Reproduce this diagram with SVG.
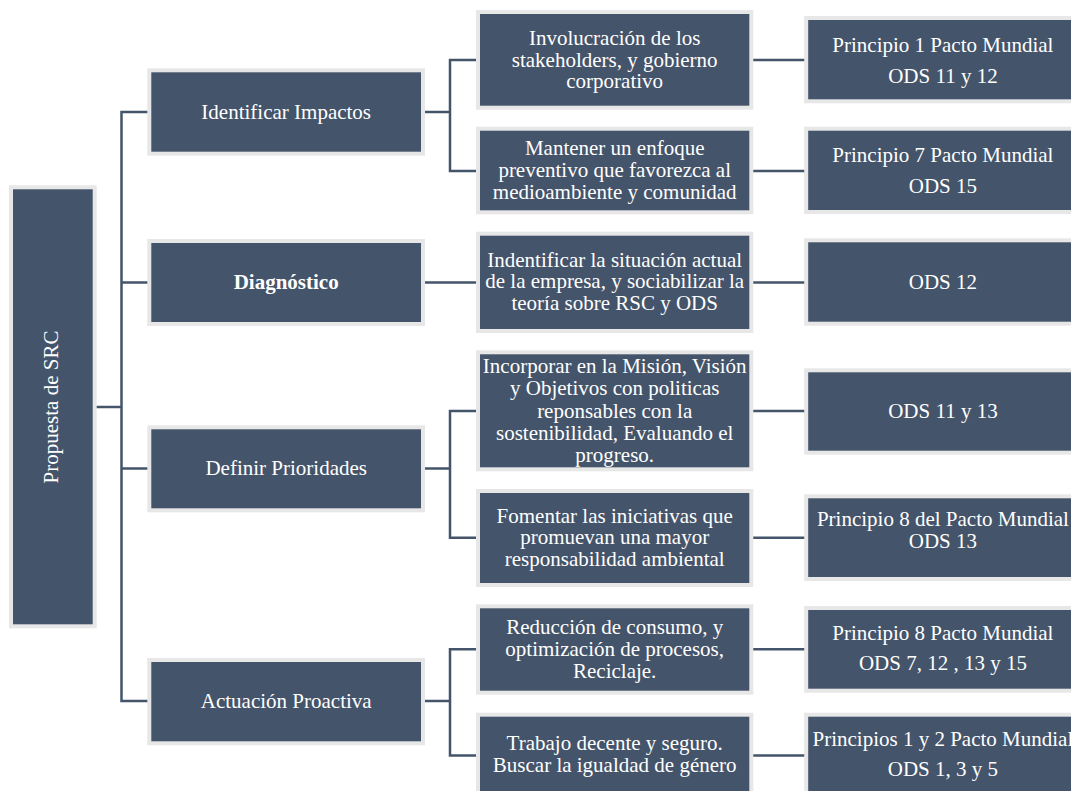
<svg xmlns="http://www.w3.org/2000/svg" width="1071" height="791" viewBox="0 0 1071 791">
<style>
.box{fill:#44546a;stroke:#e7e7e7;stroke-width:4}
.t{fill:#ffffff;font-family:"Liberation Serif","Times New Roman",serif;font-size:21px;text-anchor:middle}
.b{font-weight:bold}
.c{fill:none;stroke:#44546a;stroke-width:2.5}
</style>
<rect width="1071" height="791" fill="#ffffff"/>
<g id="connectors">
<path class="c" d="M96,407 H121.5"/>
<path class="c" d="M148,112 H121.5 V701 H148"/>
<path class="c" d="M121.5,282.5 H148"/>
<path class="c" d="M121.5,468.5 H148"/>
<path class="c" d="M424,112 H450"/>
<path class="c" d="M477,60 H450 V171 H477"/>
<path class="c" d="M424,282.5 H477"/>
<path class="c" d="M424,468.5 H450"/>
<path class="c" d="M477,411 H450 V537.7 H477"/>
<path class="c" d="M424,701 H450"/>
<path class="c" d="M477,649.3 H450 V755.5 H477"/>
<path class="c" d="M752,60 H805"/>
<path class="c" d="M752,171 H805"/>
<path class="c" d="M752,282.5 H805"/>
<path class="c" d="M752,411 H805"/>
<path class="c" d="M752,537.7 H805"/>
<path class="c" d="M752,649.3 H805"/>
<path class="c" d="M752,755.5 H805"/>
</g>
<g id="root">
<rect class="box" x="11" y="187.3" width="83.7" height="439"/>
<text class="t" transform="translate(58.2,407) rotate(-90)">Propuesta de SRC</text>
</g>
<g id="identificar">
<rect class="box" x="149.3" y="70.3" width="273.7" height="83.4"/>
<text class="t" x="286.2" y="119">Identificar Impactos</text>
</g>
<g id="diagnostico">
<rect class="box" x="149.3" y="241" width="273.7" height="83"/>
<text class="t b" x="286.2" y="289">Diagnóstico</text>
</g>
<g id="definir">
<rect class="box" x="149.3" y="427.3" width="273.7" height="83"/>
<text class="t" x="286.2" y="475">Definir Prioridades</text>
</g>
<g id="actuacion">
<rect class="box" x="149.3" y="660" width="273.7" height="83.3"/>
<text class="t" x="286.2" y="708.3">Actuación Proactiva</text>
</g>
<g id="involucracion">
<rect class="box" x="478" y="12" width="273.3" height="95.7"/>
<text class="t" x="614.7" y="45">Involucración de los</text>
<text class="t" x="614.7" y="66.6">stakeholders, y gobierno</text>
<text class="t" x="614.7" y="88.2">corporativo</text>
</g>
<g id="mantener">
<rect class="box" x="478" y="128.7" width="273.3" height="83.6"/>
<text class="t" x="614.7" y="155">Mantener un enfoque</text>
<text class="t" x="614.7" y="176.7">preventivo que favorezca al</text>
<text class="t" x="614.7" y="198.5">medioambiente y comunidad</text>
</g>
<g id="indentificar">
<rect class="box" x="478" y="233.7" width="273.3" height="97.3"/>
<text class="t" x="614.7" y="266.7">Indentificar la situación actual</text>
<text class="t" x="614.7" y="288.3">de la empresa, y sociabilizar la</text>
<text class="t" x="614.7" y="310">teoría sobre RSC y ODS</text>
</g>
<g id="incorporar">
<rect class="box" x="478" y="352.3" width="273.3" height="117"/>
<text class="t" x="614.7" y="373.3">Incorporar en la Misión, Visión</text>
<text class="t" x="614.7" y="395.3">y Objetivos con politicas</text>
<text class="t" x="614.7" y="417.5">reponsables con la</text>
<text class="t" x="614.7" y="439.5">sostenibilidad, Evaluando el</text>
<text class="t" x="614.7" y="461.5">progreso.</text>
</g>
<g id="fomentar">
<rect class="box" x="478" y="491" width="273.3" height="94"/>
<text class="t" x="614.7" y="522.5">Fomentar las iniciativas que</text>
<text class="t" x="614.7" y="544.3">promuevan una mayor</text>
<text class="t" x="614.7" y="566">responsabilidad ambiental</text>
</g>
<g id="reduccion">
<rect class="box" x="478" y="606.3" width="273.3" height="86.4"/>
<text class="t" x="614.7" y="634">Reducción de consumo, y</text>
<text class="t" x="614.7" y="656">optimización de procesos,</text>
<text class="t" x="614.7" y="677.7">Reciclaje.</text>
</g>
<g id="trabajo">
<rect class="box" x="478" y="714.7" width="273.3" height="82"/>
<text class="t" x="614.7" y="750.3">Trabajo decente y seguro.</text>
<text class="t" x="614.7" y="772">Buscar la igualdad de género</text>
</g>
<g id="p1">
<rect class="box" x="806.2" y="18" width="273.3" height="83.3"/>
<text class="t" x="942.9" y="51.7">Principio 1 Pacto Mundial</text>
<text class="t" x="942.9" y="82.7">ODS 11 y 12</text>
</g>
<g id="p7">
<rect class="box" x="806.2" y="128.7" width="273.3" height="83.3"/>
<text class="t" x="942.9" y="162.3">Principio 7 Pacto Mundial</text>
<text class="t" x="942.9" y="192.7">ODS 15</text>
</g>
<g id="ods12">
<rect class="box" x="806.2" y="240.3" width="273.3" height="83.4"/>
<text class="t" x="942.9" y="289.3">ODS 12</text>
</g>
<g id="ods1113">
<rect class="box" x="806.2" y="370.3" width="273.3" height="82.4"/>
<text class="t" x="942.9" y="418">ODS 11 y 13</text>
</g>
<g id="p8del">
<rect class="box" x="806.2" y="496.3" width="273.3" height="82.7"/>
<text class="t" x="942.9" y="526">Principio 8 del Pacto Mundial</text>
<text class="t" x="942.9" y="547.7">ODS 13</text>
</g>
<g id="p8">
<rect class="box" x="806.2" y="608" width="273.3" height="82.7"/>
<text class="t" x="942.9" y="640.3">Principio 8 Pacto Mundial</text>
<text class="t" x="942.9" y="670">ODS 7, 12 , 13 y 15</text>
</g>
<g id="p12">
<rect class="box" x="806.2" y="714.7" width="273.3" height="82"/>
<text class="t" x="942.9" y="745.5">Principios 1 y 2 Pacto Mundial</text>
<text class="t" x="942.9" y="776">ODS 1, 3 y 5</text>
</g>
</svg>
